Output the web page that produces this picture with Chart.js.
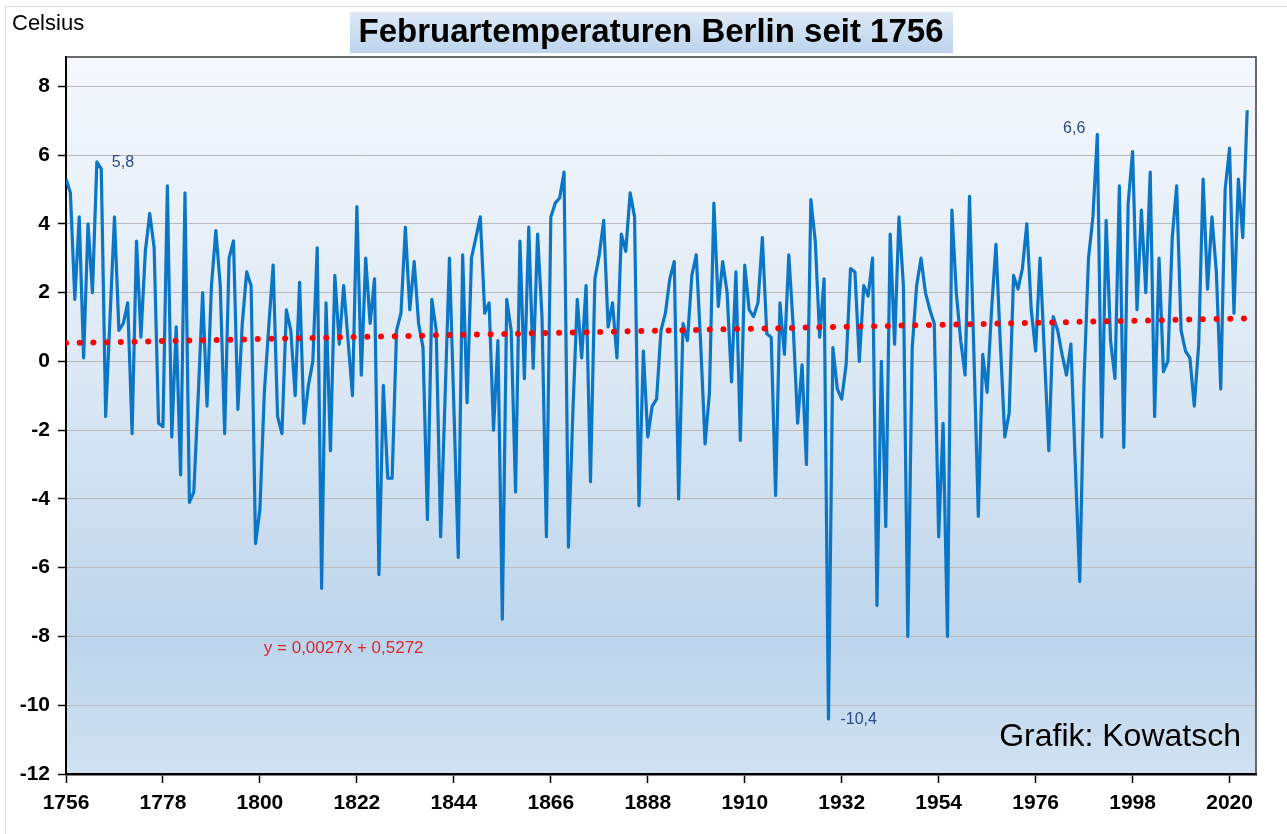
<!DOCTYPE html>
<html lang="de">
<head>
<meta charset="utf-8">
<title>Februartemperaturen Berlin seit 1756</title>
<script src="https://cdn.jsdelivr.net/npm/chart.js@4.4.1/dist/chart.umd.min.js"></script>
<style>
  html, body { margin: 0; padding: 0; background: #fff; }
  .chart-box { position: relative; width: 1287px; height: 834px; }
</style>
</head>
<body>
<div class="chart-box"><canvas id="febChart"></canvas></div>
<script>
/* DATA START */
const firstYear = 1756;

// Februarmittel Berlin, Celsius, ab 1756 (je Zeile 10 Jahre)
const febTemps = [
  5.3, 4.9, 1.8, 4.2, 0.1, 4.0, 2.0, 5.8, 5.6, -1.6, // 1756
  1.3, 4.2, 0.9, 1.1, 1.7, -2.1, 3.5, 0.7, 3.2, 4.3, // 1766
  3.3, -1.8, -1.9, 5.1, -2.2, 1.0, -3.3, 4.9, -4.1, -3.8, // 1776
  -1.0, 2.0, -1.3, 2.2, 3.8, 2.2, -2.1, 3.0, 3.5, -1.4, // 1786
  1.1, 2.6, 2.2, -5.3, -4.3, -0.9, 1.0, 2.8, -1.6, -2.1, // 1796
  1.5, 0.9, -1.0, 2.3, -1.8, -0.7, 0.0, 3.3, -6.6, 1.7, // 1806
  -2.6, 2.5, 0.5, 2.2, 0.6, -1.0, 4.5, -0.4, 3.0, 1.1, // 1816
  2.4, -6.2, -0.7, -3.4, -3.4, 0.9, 1.4, 3.9, 1.5, 2.9, // 1826
  1.1, 0.4, -4.6, 1.8, 0.9, -5.1, -1.1, 3.0, -1.3, -5.7, // 1836
  3.1, -1.2, 3.0, 3.6, 4.2, 1.4, 1.7, -2.0, 0.6, -7.5, // 1846
  1.8, 0.9, -3.8, 3.5, -0.5, 3.9, -0.2, 3.7, 1.3, -5.1, // 1856
  4.2, 4.6, 4.75, 5.5, -5.4, -1.5, 1.8, 0.1, 2.2, -3.5, // 1866
  2.4, 3.1, 4.1, 1.0, 1.7, 0.1, 3.7, 3.2, 4.9, 4.2, // 1876
  -4.2, 0.3, -2.2, -1.3, -1.1, 0.9, 1.4, 2.4, 2.9, -4.0, // 1886
  1.1, 0.6, 2.5, 3.1, 0.5, -2.4, -0.9, 4.6, 1.6, 2.9, // 1896
  2.0, -0.6, 2.6, -2.3, 2.8, 1.5, 1.3, 1.7, 3.6, 0.8, // 1906
  0.7, -3.9, 1.7, 0.2, 3.1, 1.0, -1.8, -0.1, -3.0, 4.7, // 1916
  3.5, 0.7, 2.4, -10.4, 0.4, -0.8, -1.1, -0.1, 2.7, 2.6, // 1926
  0.0, 2.2, 1.9, 3.0, -7.1, 0.0, -4.8, 3.7, 0.5, 4.2, // 1936
  2.2, -8.0, 0.4, 2.2, 3.0, 2.0, 1.5, 1.1, -5.1, -1.8, // 1946
  -8.0, 4.4, 2.0, 0.6, -0.4, 4.8, 0.2, -4.5, 0.2, -0.9, // 1956
  1.5, 3.4, 0.5, -2.2, -1.5, 2.5, 2.1, 2.7, 4.0, 1.5, // 1966
  0.3, 3.0, 0.2, -2.6, 1.3, 0.9, 0.2, -0.4, 0.5, -3.0, // 1976
  -6.4, -0.5, 3.0, 4.2, 6.6, -2.2, 4.1, 0.6, -0.5, 5.1, // 1986
  -2.5, 4.6, 6.1, 1.5, 4.4, 2.0, 5.5, -1.6, 3.0, -0.3, // 1996
  0.0, 3.6, 5.1, 0.9, 0.3, 0.1, -1.3, 0.5, 5.3, 2.1, // 2006
  4.2, 2.6, -0.8, 5.0, 6.2, 1.4, 5.3, 3.6, 7.3, // 2016
];

// Trendlinie y = 0,0027x + 0,5272, Wert am ersten und letzten Jahr
const trendEnds = [0.53, 1.25];

const xTickYears = [1756, 1778, 1800, 1822, 1844, 1866, 1888, 1910, 1932, 1954, 1976, 1998, 2020];
const yTicks = [-12, -10, -8, -6, -4, -2, 0, 2, 4, 6, 8];

// Wertbeschriftungen im Diagramm
const markYears = [1763, 1990, 1929];
const markTexts = ["5,8", "6,6", "-10,4"];
/* DATA END */

const years = febTemps.map((_, i) => firstYear + i);
const lastYear = years[years.length - 1];
const FONT = "'Liberation Sans', Arial, sans-serif";

const tempPoints = years.map((yr, i) => ({ x: yr, y: febTemps[i] }));
const trendPoints = [
  { x: firstYear, y: trendEnds[0] },
  { x: lastYear, y: trendEnds[1] },
];

/* DECOR PLUGIN */
const decor = {
  id: "decor",
  beforeDraw(chart) {
    const { ctx, chartArea: a, width } = chart;
    ctx.save();
    ctx.fillStyle = "#fff";
    ctx.fillRect(0, 0, width, chart.height);

    // outer frame
    ctx.strokeStyle = "#d8d8d8";
    ctx.lineWidth = 1;
    ctx.strokeRect(5.5, 6.5, width + 20, chart.height + 20);

    // plot background
    const g = ctx.createLinearGradient(0, a.top, 0, a.bottom);
    g.addColorStop(0, "#f5f8fc");
    g.addColorStop(0.45, "#dce8f4");
    g.addColorStop(0.82, "#bdd5ec");
    g.addColorStop(1, "#d0e2f2");
    ctx.fillStyle = g;
    ctx.fillRect(a.left, a.top, a.right - a.left, a.bottom - a.top);

    // title box
    const tg = ctx.createLinearGradient(0, 12, 0, 53);
    tg.addColorStop(0, "#dde9f6");
    tg.addColorStop(1, "#bcd4ed");
    ctx.fillStyle = tg;
    ctx.fillRect(350, 12, 603, 41);
    ctx.fillStyle = "#000";
    ctx.textAlign = "center";
    ctx.textBaseline = "middle";
    ctx.font = `bold 33px ${FONT}`;
    ctx.fillText("Februartemperaturen Berlin seit 1756", 651, 33);

    ctx.textAlign = "left";
    ctx.font = `22px ${FONT}`;
    ctx.fillText("Celsius", 12, 24);
    ctx.restore();
  },
  afterDatasetsDraw(chart) {
    const { ctx, chartArea: a, scales } = chart;
    ctx.save();
    // top and right frame of the plot
    ctx.strokeStyle = "#3a3a3a";
    ctx.lineWidth = 1.5;
    ctx.beginPath();
    ctx.moveTo(a.left, a.top);
    ctx.lineTo(a.right, a.top);
    ctx.lineTo(a.right, a.bottom);
    ctx.stroke();

    // value labels
    const offs = [[15, 1, "left"], [-12, -6, "right"], [12, 1, "left"]];
    ctx.font = `16px ${FONT}`;
    ctx.fillStyle = "#2b4a8a";
    ctx.textBaseline = "middle";
    markYears.forEach((yr, i) => {
      const v = febTemps[yr - firstYear];
      ctx.textAlign = offs[i][2];
      ctx.fillText(markTexts[i], scales.x.getPixelForValue(yr) + offs[i][0],
        scales.y.getPixelForValue(v) + offs[i][1]);
    });

    // trend equation
    ctx.fillStyle = "#d42a2f";
    ctx.textAlign = "center";
    ctx.font = `17px ${FONT}`;
    ctx.fillText("y = 0,0027x + 0,5272", scales.x.getPixelForValue(1819), scales.y.getPixelForValue(-8.35));

    ctx.fillStyle = "#000";
    ctx.textAlign = "right";
    ctx.font = `32px ${FONT}`;
    ctx.fillText("Grafik: Kowatsch", a.right - 15, a.bottom - 37);
    ctx.restore();
  },
};

const febChart = new Chart(document.getElementById("febChart"), {
  type: "line",
  data: {
    datasets: [
      {
        label: "Trend",
        data: trendPoints,
        borderColor: "#ff0000",
        borderWidth: 6,
        borderDash: [0, 13.7],
        borderCapStyle: "round",
        pointRadius: 0,
      },
      {
        label: "Februar",
        data: tempPoints,
        borderColor: "#0b76c6",
        borderWidth: 3.2,
        borderJoinStyle: "round",
        pointRadius: 0,
        tension: 0,
      },
    ],
  },
  options: {
    responsive: true,
    maintainAspectRatio: false,
    animation: false,
    events: [],
    layout: { padding: { top: 57, right: 31, left: 0, bottom: 0 } },
    plugins: { legend: { display: false }, tooltip: { enabled: false }, title: { display: false } },
    scales: {
      x: {
        type: "linear",
        min: firstYear,
        max: 2026,
        afterBuildTicks: (s) => { s.ticks = xTickYears.map((v) => ({ value: v })); },
        afterFit: (s) => { s.height = 60; },
        border: { display: true, color: "#000", width: 2.5 },
        grid: { drawOnChartArea: false, drawTicks: true, tickLength: 9, tickColor: "#000", tickWidth: 1.5 },
        ticks: {
          autoSkip: false,
          maxRotation: 0,
          padding: 8,
          color: "#000",
          font: { family: FONT, size: 21, weight: "bold" },
          callback: (v) => String(v),
        },
      },
      y: {
        type: "linear",
        min: -12,
        max: 8.85,
        afterBuildTicks: (s) => { s.ticks = yTicks.map((v) => ({ value: v })); },
        afterFit: (s) => { s.width = 66; },
        border: { display: true, color: "#000", width: 2 },
        grid: { color: "#b9b9b9", lineWidth: 1, drawTicks: true, tickLength: 8, tickColor: "#000", tickWidth: 1.5 },
        ticks: {
          padding: 8,
          color: "#000",
          font: { family: FONT, size: 21, weight: "bold" },
          callback: (v) => String(v),
        },
      },
    },
  },
  plugins: [decor],
});
</script>
</body>
</html>
